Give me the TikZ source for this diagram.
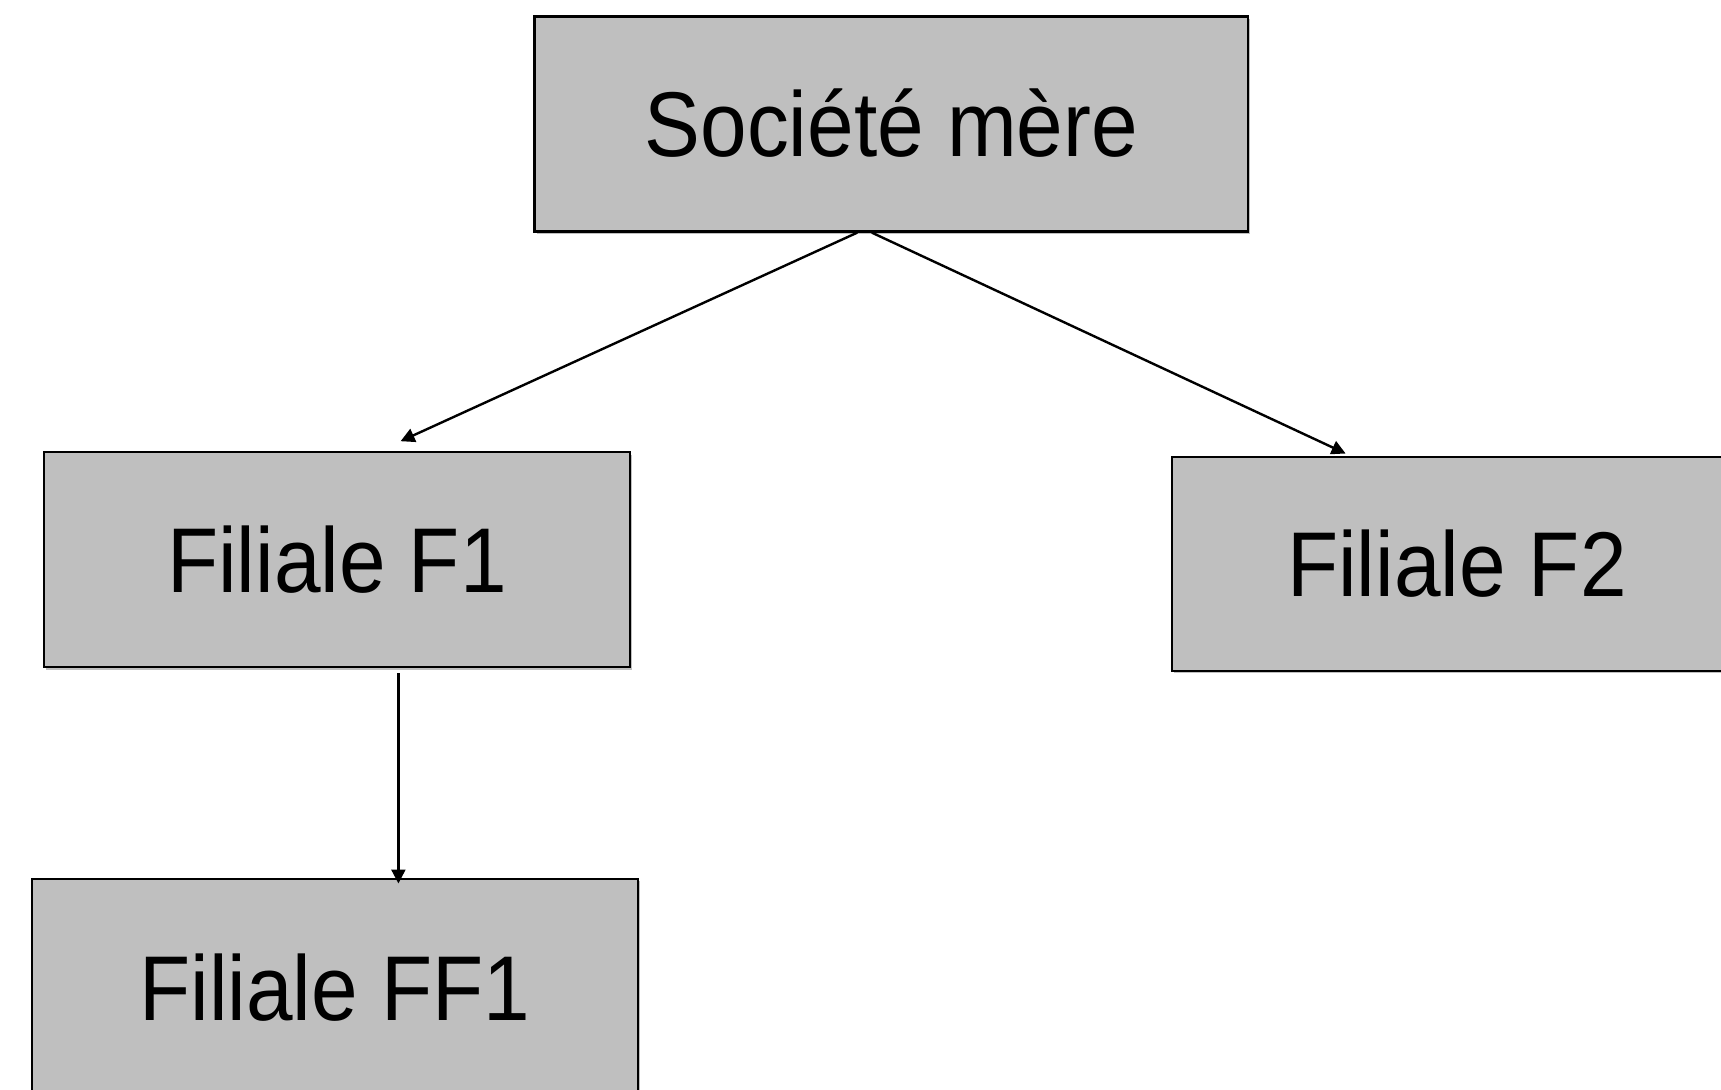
\documentclass[tikz,border=0pt]{standalone}
\usepackage{fontspec}
\setmainfont{Liberation Sans}[FakeStretch=0.91]
\usetikzlibrary{arrows.meta,shadows,calc}
\definecolor{boxgray}{RGB}{191,191,191}
\tikzset{
  orgbox/.style={draw=black, line width=1.1pt, fill=boxgray, rectangle,
    inner sep=0pt, text height=32.5pt, text depth=0pt,
    font=\fontsize{46}{50}\selectfont,
    drop shadow={shadow xshift=1.2pt, shadow yshift=-1.2pt, fill=black, opacity=0.25}},
  arr/.style={draw=black, line width=1.2pt, -{Triangle[length=7pt,width=7pt]}}
}
\begin{document}
\begin{tikzpicture}[x=0.5pt,y=-0.5pt]
\useasboundingbox (0,0) rectangle (1721,1089);
\node[orgbox, minimum width=356.75pt, minimum height=107.5pt] (sm) at (891.3,124) {Société mère};
\node[orgbox, minimum width=293pt, minimum height=107.5pt] (f1) at (337,559.8) {Filiale F1};
\node[orgbox, minimum width=285pt, minimum height=107pt] (f2) at (1457,563.6) {Filiale F2};
\node[orgbox, minimum width=303pt, minimum height=109pt] (ff1) at (334.8,988) {Filiale FF1};
\draw[arr] ([xshift=-17pt]sm.south) -- ([xshift=31.8pt,yshift=5pt]f1.north);
\draw[arr] ([xshift=-9.75pt]sm.south) -- ([xshift=-55.7pt,yshift=1pt]f2.north);
\draw[arr] ([xshift=30.7pt,yshift=-2.35pt]f1.south) -- ([xshift=31.8pt,yshift=-2.8pt]ff1.north);
\end{tikzpicture}
\end{document}
